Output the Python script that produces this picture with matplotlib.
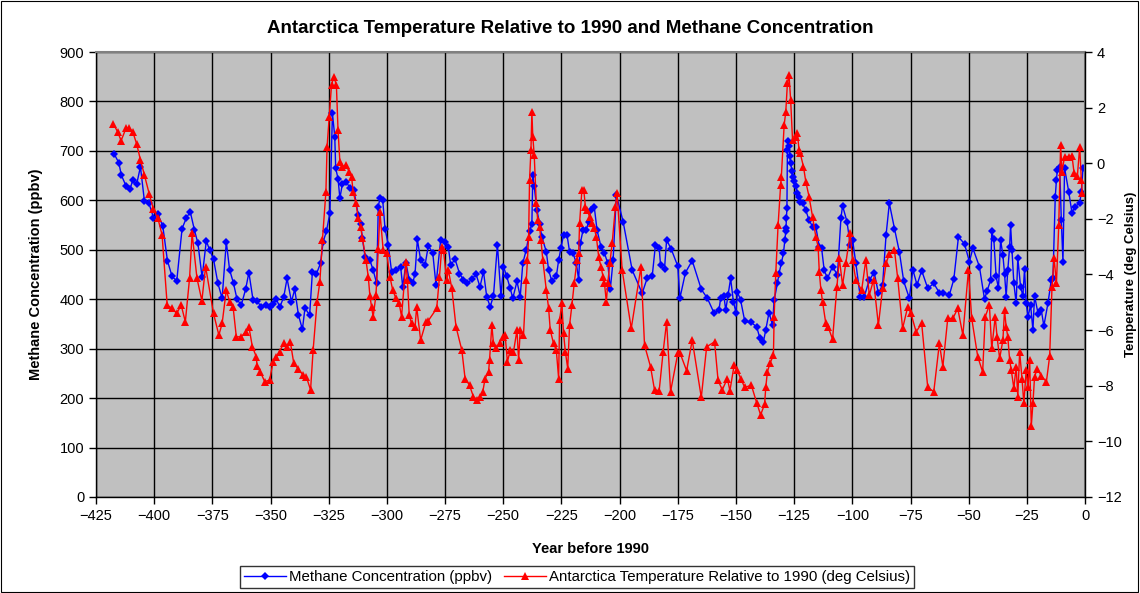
import matplotlib

matplotlib.use("Agg")
import matplotlib.pyplot as plt  # noqa: E402
from matplotlib.patches import Rectangle  # noqa: E402

plt.rcParams["font.family"] = ["Liberation Sans", "DejaVu Sans"]

# Methane concentration (ppbv) vs year before 1990 (thousands of years)
ch4_year = [
    -417.2, -415.2, -414.1, -412.0, -410.4, -409.2, -407.5, -405.9, -404.2, -402.3,
    -400.3, -398.4, -396.3, -394.3, -392.3, -390.3, -388.0, -386.2, -384.5, -382.7,
    -381.2, -379.4, -377.6, -376.2, -374.5, -372.6, -370.8, -369.0, -367.6, -365.9,
    -364.4, -362.6, -360.7, -359.3, -357.5, -355.8, -354.0, -352.1, -350.4, -348.9,
    -347.5, -346.0, -344.3, -342.9, -341.0, -339.6, -338.0, -336.3, -335.2, -333.2,
    -332.0, -330.3, -328.5, -327.4, -326.0, -324.5, -323.4, -322.4, -322.0, -321.0,
    -320.2, -319.1, -317.4, -315.9, -314.2, -312.3, -311.3, -310.5, -309.4, -307.3,
    -305.9, -304.4, -303.7, -303.0, -301.8, -300.8, -299.4, -298.0, -296.1, -294.1,
    -293.2, -291.8, -290.4, -288.9, -287.9, -286.9, -285.5, -283.6, -282.2, -280.3,
    -278.9, -276.9, -275.0, -273.6, -272.6, -270.7, -268.8, -267.1, -265.7, -263.5,
    -261.7, -260.0, -258.5, -257.1, -255.6, -254.2, -252.5, -251.0, -249.9, -248.5,
    -247.0, -245.9, -244.1, -242.7, -241.6, -240.1, -238.7, -237.7, -237.3, -236.7,
    -235.5, -234.4, -233.4, -231.5, -230.5, -229.1, -227.2, -226.2, -225.2, -224.1,
    -222.6, -221.5, -220.0, -218.6, -217.6, -216.9, -215.7, -214.3, -213.3, -212.3,
    -210.9, -209.7, -208.0, -206.5, -205.1, -204.0, -202.8, -201.4, -198.5, -194.6,
    -190.3, -188.2, -186.0, -184.6, -183.0, -182.4, -180.7, -179.8, -177.8, -175.0,
    -174.1, -171.7, -168.8, -164.9, -162.3, -159.5, -157.3, -156.6, -155.2, -154.4,
    -153.4, -152.3, -151.1, -150.0, -149.4, -148.0, -146.2, -143.4, -141.1, -139.7,
    -138.2, -137.2, -135.8, -134.3, -133.6, -132.2, -131.5, -130.5, -129.6, -129.0,
    -128.6, -128.5, -128.3, -128.1, -127.9, -127.6, -127.2, -126.8, -126.5, -126.0,
    -125.7, -125.0, -124.3, -123.6, -122.9, -122.4, -121.4, -120.0, -118.6, -117.1,
    -115.7, -114.2, -113.2, -112.1, -110.7, -108.5, -106.4, -104.9, -104.2, -102.3,
    -100.9, -99.9, -98.5, -96.6, -94.9, -92.7, -90.6, -88.8, -87.0, -85.5,
    -84.1, -81.9, -79.8, -77.9, -75.5, -74.0, -72.2, -70.2, -67.6, -65.0,
    -62.6, -61.1, -58.3, -56.4, -54.4, -51.8, -49.7, -48.2, -45.4, -43.2,
    -42.1, -40.6, -40.1, -39.2, -38.2, -37.2, -36.3, -35.3, -34.6, -33.9,
    -33.2, -32.4, -32.0, -31.4, -30.6, -29.6, -28.9, -27.7, -26.7, -26.0,
    -25.3, -24.5, -23.4, -22.4, -21.7, -20.2, -18.8, -17.7, -15.9, -14.5,
    -13.8, -12.8, -12.3, -11.9, -10.9, -10.2, -9.5, -8.8, -7.0, -5.6,
    -4.5, -2.3, -1.6, -0.9,
]
ch4_ppbv = [
    694, 676, 651, 628, 622, 641, 633, 668, 599, 595,
    565, 572, 548, 478, 446, 437, 543, 564, 577, 540,
    513, 444, 518, 500, 481, 432, 402, 516, 460, 432,
    400, 388, 420, 454, 398, 397, 384, 388, 385, 390,
    400, 384, 405, 442, 395, 420, 368, 339, 382, 368,
    456, 451, 473, 516, 537, 574, 776, 729, 665, 644,
    604, 634, 638, 624, 621, 570, 553, 523, 486, 479,
    459, 432, 587, 604, 601, 543, 510, 456, 459, 466,
    425, 473, 439, 432, 452, 521, 479, 469, 508, 494,
    429, 520, 516, 506, 469, 481, 452, 439, 432, 440,
    451, 425, 456, 405, 385, 407, 510, 407, 466, 446,
    422, 402, 436, 405, 473, 500, 537, 553, 651, 628,
    580, 553, 526, 496, 459, 436, 446, 479, 503, 530,
    530, 496, 493, 473, 439, 513, 540, 541, 557, 580,
    587, 540, 506, 493, 473, 420, 479, 611, 557, 459,
    412, 442, 446, 510, 503, 469, 462, 520, 501, 467,
    402, 454, 478, 420, 402, 373, 378, 402, 407, 378,
    409, 442, 395, 373, 415, 398, 355, 353, 344, 321,
    314, 338, 373, 348, 398, 432, 452, 473, 493, 520,
    537, 545, 565, 585, 702, 720, 709, 690, 675, 660,
    648, 640, 628, 614, 607, 597, 594, 580, 560, 547,
    547, 506, 503, 459, 442, 466, 449, 564, 589, 557,
    510, 520, 473, 405, 405, 439, 454, 412, 429, 530,
    594, 543, 496, 436, 402, 460, 429, 458, 422, 432,
    413, 412, 409, 440, 526, 512, 476, 503, 466, 400,
    417, 438, 537, 521, 446, 422, 520, 489, 452, 405,
    459, 506, 550, 500, 432, 392, 483, 425, 407, 462,
    392, 365, 388, 338, 407, 371, 378, 346, 393, 439,
    442, 607, 641, 661, 668, 560, 476, 665, 617, 574,
    587, 594, 617, 665,
]

# Antarctic temperature relative to 1990 (deg C)
temp_year = [
    -417.5, -415.7, -414.2, -412.1, -410.7, -409.2, -407.5, -405.9, -404.2, -402.1,
    -400.3, -398.4, -396.6, -394.4, -392.3, -390.3, -388.4, -386.6, -384.8, -383.7,
    -381.6, -379.5, -377.9, -374.5, -372.2, -370.8, -369.0, -367.6, -366.1, -364.7,
    -362.6, -360.7, -359.3, -357.8, -356.1, -355.8, -354.4, -352.5, -350.4, -348.9,
    -347.5, -346.1, -344.3, -342.9, -341.5, -340.0, -338.2, -336.0, -334.6, -332.8,
    -331.7, -330.0, -328.8, -327.7, -326.2, -325.7, -324.8, -323.8, -322.8, -321.7,
    -321.0, -320.2, -319.1, -317.6, -316.2, -315.2, -314.5, -313.3, -312.3, -311.3,
    -310.5, -309.0, -308.0, -307.3, -306.6, -305.9, -304.7, -303.7, -303.0, -301.6,
    -300.1, -298.7, -297.5, -296.1, -294.7, -293.7, -291.8, -291.2, -290.4, -289.4,
    -287.9, -287.2, -285.5, -283.2, -282.2, -278.6, -277.4, -276.4, -275.7, -274.3,
    -273.6, -272.1, -270.3, -267.8, -266.4, -264.5, -262.8, -261.4, -259.9, -258.8,
    -257.8, -256.3, -255.9, -254.9, -254.2, -253.1, -251.6, -250.2, -249.2, -248.2,
    -247.0, -245.6, -244.1, -243.4, -242.7, -241.3, -240.1, -239.6, -239.1, -238.7,
    -238.1, -237.7, -237.3, -236.7, -235.8, -235.2, -234.4, -233.8, -233.0, -231.5,
    -230.5, -229.8, -228.4, -227.2, -226.2, -225.8, -224.8, -224.1, -223.3, -222.3,
    -221.5, -220.5, -219.5, -218.3, -217.6, -217.2, -216.2, -215.4, -214.7, -214.0,
    -212.9, -211.9, -210.9, -210.0, -209.0, -208.0, -207.1, -206.5, -205.7, -205.1,
    -204.2, -203.2, -201.8, -201.1, -198.9, -195.0, -190.8, -189.3, -186.7, -185.0,
    -183.0, -181.3, -179.8, -178.1, -175.0, -174.1, -171.2, -168.8, -164.9, -162.6,
    -159.2, -157.7, -155.9, -153.7, -152.6, -150.8, -149.4, -148.0, -146.2, -143.4,
    -141.1, -139.4, -137.7, -137.2, -136.5, -135.4, -133.9, -133.6, -132.9, -131.9,
    -130.8, -130.5, -129.3, -128.6, -127.9, -127.2, -126.5, -125.7, -124.3, -123.6,
    -122.9, -122.4, -121.0, -120.0, -118.6, -117.1, -115.7, -114.7, -114.2, -113.5,
    -112.8, -111.4, -110.4, -108.5, -106.6, -105.6, -104.2, -102.8, -100.9, -99.9,
    -98.5, -96.0, -94.2, -92.7, -90.9, -88.8, -87.0, -85.5, -84.1, -81.9,
    -80.5, -78.4, -76.2, -74.8, -72.6, -70.2, -67.6, -65.0, -62.6, -61.1,
    -59.0, -56.8, -54.7, -52.5, -50.1, -48.7, -46.1, -44.0, -42.9, -41.1,
    -40.1, -38.6, -37.8, -36.7, -35.3, -34.6, -33.9, -33.2, -32.4, -31.7,
    -30.6, -29.6, -28.9, -28.1, -27.1, -26.3, -25.3, -24.5, -23.8, -23.1,
    -22.4, -21.7, -20.5, -18.8, -16.6, -15.2, -14.2, -13.3, -12.3, -11.3,
    -10.5, -9.9, -8.8, -7.0, -5.6, -4.7, -3.3, -2.3, -1.6, -1.2,
]
temp_c = [
    1.41, 1.13, 0.81, 1.26, 1.26, 1.13, 0.69, 0.12, -0.42, -1.11,
    -1.66, -1.98, -2.58, -5.10, -5.22, -5.40, -5.10, -5.70, -4.14, -2.52,
    -4.14, -4.94, -3.72, -5.40, -6.18, -5.76, -4.56, -4.98, -5.16, -6.24,
    -6.24, -6.06, -5.88, -6.60, -6.96, -7.29, -7.50, -7.85, -7.80, -7.14,
    -6.96, -6.78, -6.45, -6.60, -6.42, -7.20, -7.38, -7.62, -7.68, -8.15,
    -6.72, -4.98, -4.26, -2.76, -1.02, 0.60, 1.67, 2.81, 3.11, 2.81,
    1.20, 0.06, -0.12, -0.06, -0.30, -0.48, -1.02, -1.44, -1.98, -2.28,
    -2.70, -3.48, -4.08, -4.77, -5.16, -5.52, -4.74, -3.10, -1.75, -3.12,
    -3.24, -4.08, -4.56, -4.86, -5.04, -5.52, -3.54, -4.20, -5.46, -5.76,
    -5.88, -5.16, -6.36, -5.70, -5.66, -5.22, -4.08, -3.00, -3.12, -4.20,
    -3.84, -4.50, -5.88, -6.72, -7.74, -7.98, -8.40, -8.51, -8.40, -8.22,
    -7.74, -7.50, -7.08, -5.82, -6.48, -6.66, -6.48, -6.24, -6.18, -7.14,
    -6.72, -6.78, -6.00, -7.08, -6.00, -6.18, -4.20, -3.48, -2.64, -0.60,
    0.48, 1.85, 0.96, 0.30, -1.44, -2.04, -2.28, -2.76, -3.48, -4.56,
    -5.22, -6.00, -6.48, -6.72, -7.74, -5.64, -5.04, -6.12, -6.78, -7.38,
    -5.82, -5.10, -4.32, -3.48, -3.24, -2.16, -0.96, -0.96, -1.56, -1.68,
    -1.92, -2.16, -2.34, -2.64, -3.36, -3.72, -4.08, -4.32, -4.98, -4.32,
    -3.60, -2.88, -1.56, -1.08, -3.84, -5.94, -3.72, -6.54, -7.32, -8.15,
    -8.18, -6.78, -5.70, -8.21, -6.84, -6.81, -7.46, -6.36, -8.42, -6.60,
    -6.42, -7.80, -8.15, -7.74, -8.18, -7.26, -7.44, -7.74, -8.06, -7.98,
    -8.61, -9.05, -8.66, -8.06, -7.50, -7.20, -6.90, -5.52, -3.96, -2.22,
    -0.78, -0.48, 1.37, 1.85, 2.87, 3.17, 2.27, 0.84, 0.96, 1.08,
    0.48, 0.36, -0.12, -0.66, -1.20, -1.92, -2.64, -3.00, -3.90, -4.56,
    -4.98, -5.76, -5.88, -6.33, -4.44, -3.42, -4.38, -3.60, -2.52, -3.48,
    -4.20, -4.56, -3.48, -4.74, -4.20, -5.82, -4.50, -3.60, -3.26, -3.12,
    -4.14, -5.94, -5.16, -5.40, -6.06, -5.76, -8.06, -8.21, -6.48, -7.31,
    -5.58, -5.58, -5.22, -6.18, -3.84, -5.58, -6.96, -7.50, -5.52, -5.10,
    -6.66, -5.52, -6.24, -7.02, -6.36, -5.28, -5.88, -6.24, -7.08, -7.44,
    -8.09, -7.31, -8.39, -6.78, -7.74, -8.63, -7.44, -8.03, -7.08, -9.45,
    -8.63, -7.68, -7.38, -7.65, -7.85, -6.93, -4.44, -3.42, -4.32, -2.22,
    0.66, -0.30, 0.24, 0.24, 0.26, -0.36, -0.46, 0.60, -0.60, -1.06,
]

x_ticks = list(range(-425, 1, 25))
ch4_ticks = list(range(0, 901, 100))
temp_ticks = list(range(-12, 5, 2))


def main() -> None:
    fig = plt.figure(figsize=(11.4, 5.93), dpi=100)
    fig.patch.set_facecolor("white")
    fig.patches.append(
        Rectangle((0.001, 0.001), 0.997, 0.997, transform=fig.transFigure,
                  fill=False, edgecolor="black", linewidth=0.8)
    )

    ax = fig.add_axes([0.0842, 0.1619, 0.8676, 0.7504])
    ax.set_facecolor("#C0C0C0")
    ax.set_xlim(-425, 0)
    ax.set_ylim(0, 900)
    ax.set_xticks(x_ticks)
    ax.set_yticks(ch4_ticks)
    ax.grid(True, color="black", linewidth=1.0)
    ax.set_axisbelow(True)
    for sp in ax.spines.values():
        sp.set_color("#808080")
        sp.set_linewidth(1.5)
    ax.spines["bottom"].set_color("black")
    ax.spines["bottom"].set_linewidth(1.0)
    ax.spines["left"].set_color("black")
    ax.spines["left"].set_linewidth(1.0)
    ax.tick_params(direction="out", length=5, labelsize=10.5, width=1)

    (l1,) = ax.plot(ch4_year, ch4_ppbv, color="#0000FF", linewidth=1.0,
                    marker="D", markersize=4.5, markeredgewidth=0,
                    label="Methane Concentration (ppbv)")
    ax.set_ylabel("Methane Concentration (ppbv)", fontsize=10.5,
                  fontweight="bold", labelpad=12)
    ax.set_xlabel("Year before 1990", fontsize=10.5, fontweight="bold",
                  labelpad=14)

    ax2 = ax.twinx()
    ax2.set_ylim(-12, 4)
    ax2.set_yticks(temp_ticks)
    ax2.patch.set_visible(False)
    for sp in ax2.spines.values():
        sp.set_visible(False)
    ax2.spines["right"].set_visible(True)
    ax2.spines["right"].set_color("black")
    ax2.spines["right"].set_linewidth(1.0)
    ax2.tick_params(direction="out", length=5, labelsize=10.5, width=1)
    (l2,) = ax2.plot(temp_year, temp_c, color="#FF0000", linewidth=1.0,
                     marker="^", markersize=5.5, markeredgewidth=0,
                     label="Antarctica Temperature Relative to 1990 (deg Celsius)")
    ax2.set_ylabel("Temperature (deg Celsius)", fontsize=9.5,
                   fontweight="bold", labelpad=2)

    fig.suptitle("Antarctica Temperature Relative to 1990 and Methane Concentration",
                 x=0.5, y=0.966, fontsize=13.5, fontweight="bold")

    leg = fig.legend(handles=[l1, l2], loc="center", bbox_to_anchor=(0.506, 0.027),
                     ncol=2, fontsize=10.8, frameon=True, fancybox=False,
                     borderpad=0.25, handlelength=2.8, handletextpad=0.2,
                     columnspacing=0.8, borderaxespad=0)
    leg.get_frame().set_edgecolor("black")
    leg.get_frame().set_linewidth(1.0)

    fig.savefig("out.png", dpi=100)
    plt.close(fig)


if __name__ == "__main__":
    main()
